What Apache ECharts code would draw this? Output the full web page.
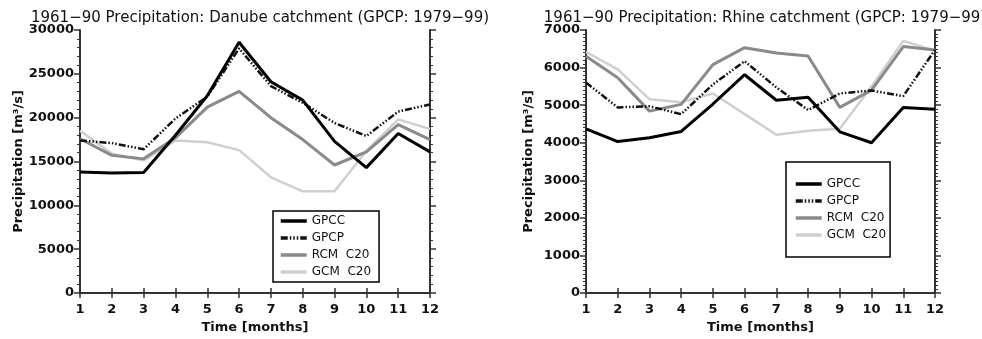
<!DOCTYPE html>
<html><head><meta charset="utf-8">
<script src="https://cdn.jsdelivr.net/npm/echarts@6/dist/echarts.min.js"></script>
<style>html,body{margin:0;padding:0;background:#fff}#c{width:982px;height:339px}</style>
</head><body><div id="c"></div>
<script>
const months = [1,2,3,4,5,6,7,8,9,10,11,12];
const seriesNames = ['GPCC','GPCP','RCM  C20','GCM  C20'];
const titles = ['1961\u221290 Precipitation: Danube catchment (GPCP: 1979\u221299)',
                '1961\u221290 Precipitation: Rhine catchment (GPCP: 1979\u221299)'];
const danubeGPCC = [13800,13700,13750,18000,22500,28600,24100,22000,17300,14300,18200,16100];
const danubeGPCP = [17400,17100,16400,19900,22400,27900,23600,21700,19400,17900,20700,21500];
const danubeRCM  = [17600,15700,15300,17700,21200,23000,20000,17500,14600,16100,19200,17500];
const danubeGCM  = [18500,15900,15100,17400,17200,16300,13200,11600,11600,16200,19800,18700];
const rhineGPCC = [4370,4030,4130,4300,5030,5810,5130,5210,4290,4000,4940,4890];
const rhineGPCP = [5600,4940,4970,4760,5550,6170,5470,4870,5310,5390,5240,6470];
const rhineRCM  = [6300,5730,4840,5020,6080,6530,6390,6310,4940,5400,6560,6470];
const rhineGCM  = [6420,5950,5160,5080,5310,4760,4210,4320,4370,5500,6710,6450];
const danubeY = {min:0, max:30000, interval:5000, minor:5};
const rhineY  = {min:0, max:7000, interval:1000, minor:10};

const FONT = 'DejaVu Sans';
const axisCol = '#333';
const styles = [
  {color:'#000', width:3, type:'solid'},
  {color:'#111', width:2.5, type:[7,2,1.5,2,1.5,2,1.5,2]},
  {color:'#8a8a8a', width:3, type:'solid'},
  {color:'#cfcfcf', width:2.5, type:'solid'}
];
const grids = [
  {left:80, right:552, top:30, bottom:43},
  {left:586, right:47, top:30, bottom:43}
];
const xAxes = [], yAxes = [], series = [];
const ycfgs = [danubeY, rhineY];
const datasets = [[danubeGPCC,danubeGPCP,danubeRCM,danubeGCM],[rhineGPCC,rhineGPCP,rhineRCM,rhineGCM]];
for (let g=0; g<2; g++) {
  const yc = ycfgs[g];
  xAxes.push({gridIndex:g, type:'value', min:1, max:12, interval:1, position:'bottom',
    name:'Time [months]', nameLocation:'middle', nameGap:28,
    nameTextStyle:{fontFamily:FONT, fontSize:13, fontWeight:'bold', color:'#111'},
    axisLine:{lineStyle:{color:axisCol, width:2}}, axisTick:{length:5, lineStyle:{color:axisCol,width:1.5}},
    axisLabel:{fontFamily:FONT, fontSize:13, fontWeight:'bold', color:'#111', margin:10},
    splitLine:{show:false}});
  xAxes.push({gridIndex:g, type:'value', min:1, max:12, interval:1, position:'top',
    axisLine:{lineStyle:{color:axisCol, width:2}}, axisTick:{length:5, lineStyle:{color:axisCol,width:1.5}},
    axisLabel:{show:false}, splitLine:{show:false}});
  yAxes.push({gridIndex:g, type:'value', min:yc.min, max:yc.max, interval:yc.interval, position:'left',
    name:'Precipitation [m\u00b3/s]', nameLocation:'middle', nameGap:g===0?53:51,
    nameTextStyle:{fontFamily:FONT, fontSize:13, fontWeight:'bold', color:'#111'},
    axisLine:{show:true, lineStyle:{color:axisCol, width:2}}, axisTick:{show:true, length:6, lineStyle:{color:axisCol,width:1.5}},
    minorTick:{show:true, splitNumber:yc.minor, length:3, lineStyle:{color:axisCol,width:1}},
    axisLabel:{fontFamily:FONT, fontSize:13, fontWeight:'bold', color:'#111', margin:6, formatter: v => String(v)},
    splitLine:{show:false}});
  yAxes.push({gridIndex:g, type:'value', min:yc.min, max:yc.max, interval:yc.interval, position:'right',
    axisLine:{show:true, lineStyle:{color:axisCol, width:2}}, axisTick:{show:true, length:6, lineStyle:{color:axisCol,width:1.5}},
    minorTick:{show:true, splitNumber:yc.minor, length:3, lineStyle:{color:axisCol,width:1}},
    axisLabel:{show:false}, splitLine:{show:false}});
  for (let s=0; s<4; s++) {
    series.push({type:'line', name:seriesNames[s], xAxisIndex:g*2, yAxisIndex:g*2,
      symbol:'none', showSymbol:false, silent:true, animation:false,
      data: months.map((m,i)=>[m, datasets[g][s][i]]),
      lineStyle:{color:styles[s].color, width:styles[s].width, type:styles[s].type},
      itemStyle:{color:styles[s].color}, z: 10-s});
  }
}
const legendCommon = {orient:'vertical', data:seriesNames, itemWidth:26, itemHeight:10, itemGap:5,
  borderColor:'#000', borderWidth:1.5, borderRadius:0, selectedMode:false,
  itemStyle:{opacity:0, borderWidth:0}, lineStyle:{width:3.5},
  textStyle:{fontFamily:FONT, fontSize:12, color:'#111'}};
const chart = echarts.init(document.getElementById('c'), null, {renderer:'canvas'});
chart.setOption({
  animation:false,
  backgroundColor:'#fff',
  title: titles.map((t,i)=>({text:t, left: i===0?255:760, textAlign:'center', top:6,
    textStyle:{fontFamily:FONT, fontSize:15, fontWeight:'normal', color:'#111'}})),
  legend: [
    Object.assign({}, legendCommon, {left:273, top:211, padding:[4,8,4,6]}),
    Object.assign({}, legendCommon, {left:786, top:162, padding:[16,4,16,8]})
  ],
  grid: grids,
  xAxis: xAxes,
  yAxis: yAxes,
  series: series
});
</script></body></html>
